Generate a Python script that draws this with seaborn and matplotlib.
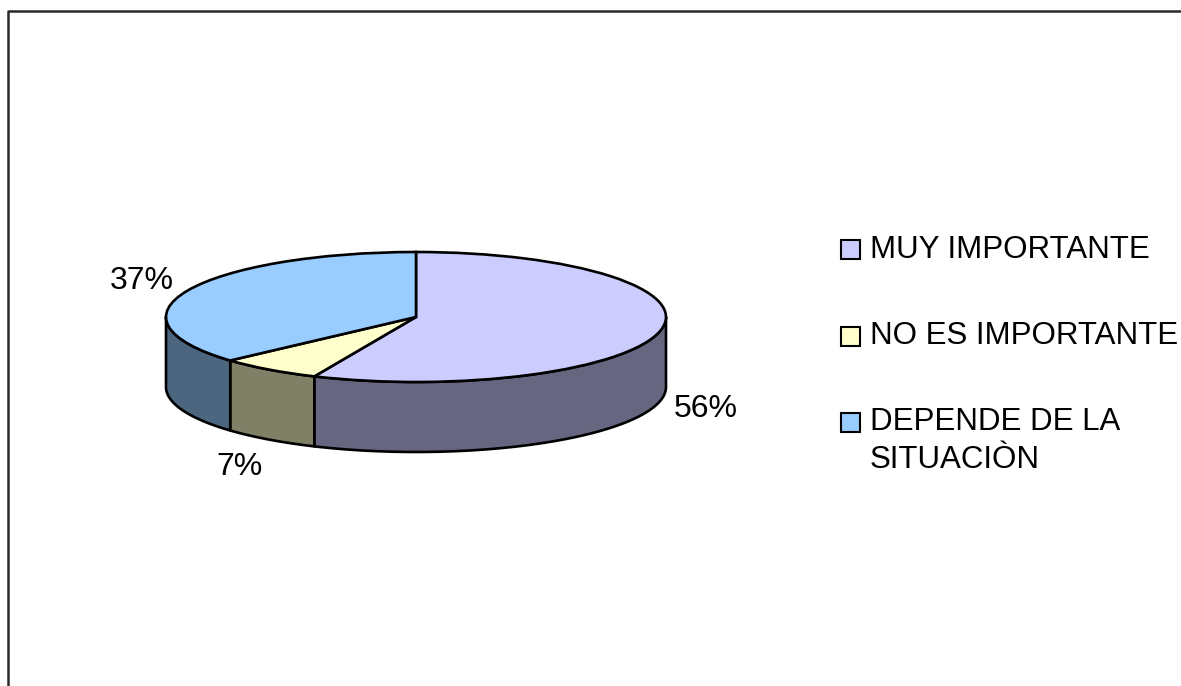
import numpy as np
import matplotlib
matplotlib.use('Agg')
import matplotlib.pyplot as plt
import seaborn as sns
from matplotlib.patches import Rectangle

categories = ['MUY IMPORTANTE', 'NO ES IMPORTANTE', 'DEPENDE DE LA\nSITUACIÒN']
counts = [17, 2, 11]
pct_labels = ['56%', '7%', '37%']
top_colors = ['#CCCCFF', '#FFFFCC', '#99CCFF']
side_colors = ['#666680', '#808066', '#4D6680']

W, H = 1181, 686


def __to_fig(left, top, right, bottom):
    return [left / W, 1 - bottom / H, (right - left) / W, (bottom - top) / H]


def __draw_walls(ax, values, depth):
    # walls are only seen on the front half of the disc (180..360 deg)
    shares = np.array(values) / sum(values)
    edges = 90 - 360 * np.concatenate([[0], np.cumsum(shares)])
    for i in range(len(values)):
        a0 = min(edges[i], 0)
        a1 = max(edges[i + 1], -180)
        if a0 <= a1:
            continue
        a = np.radians(np.linspace(a0, a1, 80))
        x = np.cos(a)
        y = np.sin(a)
        ax.fill(np.r_[x, x[::-1]], np.r_[y, y[::-1] - depth],
                facecolor=side_colors[i], edgecolor='black', lw=1.9,
                joinstyle='round', zorder=0.5)


sns.set_theme(style='white')
plt.rcParams['font.family'] = ['Liberation Sans', 'DejaVu Sans']

fig = plt.figure(figsize=(W / 100, H / 100), dpi=100, facecolor='white')

# overlay in pixel coordinates for frame, legend and labels
bg = fig.add_axes([0, 0, 1, 1])
bg.set_xlim(0, W)
bg.set_ylim(H, 0)
bg.axis('off')
bg.plot([8, 8, W + 5], [H + 5, 11, 11], color='#2a2a2a', lw=1.8)

pct_pos = [(706, 409), (239, 467), (142, 281)]
for label, (x, y) in zip(pct_labels, pct_pos):
    bg.text(x, y, label, fontsize=23, color='black', ha='center', va='center')

legend_y = [249.5, 336.5, 422.5]
text_y = [250, 336, 441]
for cat, color, y, ty in zip(categories, top_colors, legend_y, text_y):
    bg.add_patch(Rectangle((841, y - 9.5), 19, 19, facecolor=color, edgecolor='black', lw=1.5))
    bg.text(870, ty, cat, fontsize=22.5, color='black', ha='left', va='center', linespacing=1.35)

# the disc itself, squashed by turning the aspect off
depth = 70 / 65
ax = fig.add_axes(__to_fig(166, 252, 666, 452))
ax.patch.set_alpha(0)
ax.pie(counts, colors=top_colors, startangle=90, counterclock=False, radius=1,
       wedgeprops={'edgecolor': 'black', 'linewidth': 1.9, 'zorder': 2})
__draw_walls(ax, counts, depth)
ax.set_aspect('auto')
ax.set_xlim(-1, 1)
ax.set_ylim(-1 - depth, 1)
ax.axis('off')
for artist in ax.get_children():
    artist.set_clip_on(False)

fig.savefig('out.png', dpi=100, facecolor='white')
